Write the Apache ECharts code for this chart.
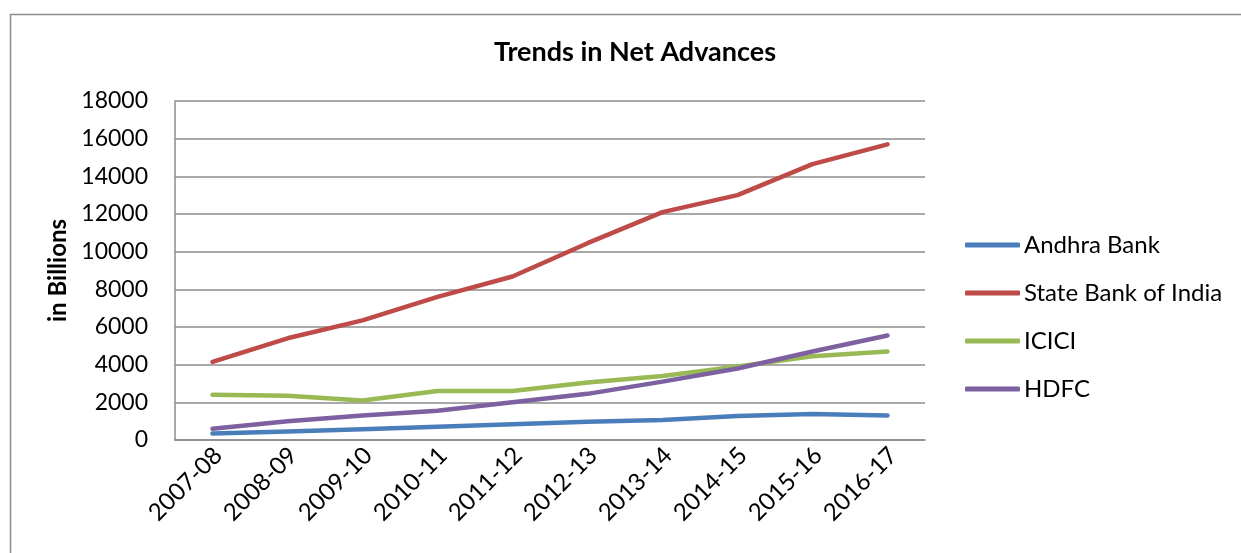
<!DOCTYPE html>
<html>
<head>
<meta charset="utf-8">
<script src="https://cdn.jsdelivr.net/npm/echarts@6/dist/echarts.min.js"></script>
<style>
html,body{margin:0;padding:0;background:#fff;}
#c{width:1241px;height:553px;}
</style>
</head>
<body>
<div id="c"></div>
<script>
const categories = ['2007-08','2008-09','2009-10','2010-11','2011-12','2012-13','2013-14','2014-15','2015-16','2016-17'];
const andhraBank = [350, 450, 570, 700, 830, 970, 1060, 1270, 1380, 1300];
const stateBankOfIndia = [4150, 5400, 6350, 7600, 8680, 10450, 12100, 13000, 14650, 15700];
const icici = [2400, 2350, 2100, 2600, 2600, 3050, 3400, 3900, 4450, 4700];
const hdfc = [600, 1000, 1300, 1550, 2000, 2450, 3100, 3800, 4700, 5550];
const yTicks = [0, 2000, 4000, 6000, 8000, 10000, 12000, 14000, 16000, 18000];

const FONT = 'Lato';
const chart = echarts.init(document.getElementById('c'), null, {renderer: 'canvas'});

function mk(name, data, color) {
  return {
    name: name, type: 'line', data: data, symbol: 'none',
    lineStyle: {width: 4.5, color: color, cap: 'round', join: 'round'},
    itemStyle: {color: color},
    emphasis: {disabled: true}
  };
}

chart.setOption({
  animation: false,
  backgroundColor: '#fff',
  textStyle: {fontFamily: FONT},
  graphic: [{
    type: 'rect', left: 8, top: 12, silent: true,
    shape: {width: 1300, height: 700},
    style: {fill: 'none', stroke: '#8c8c8c', lineWidth: 1.5}
  }],
  title: {
    text: 'Trends in Net Advances',
    left: 630, top: 34, textAlign: 'center',
    textStyle: {fontFamily: FONT, fontWeight: 'bold', fontSize: 27, color: '#000'}
  },
  legend: {
    orient: 'vertical', left: 960, top: 228,
    itemWidth: 55, itemHeight: 5, itemGap: 24,
    icon: 'roundRect',
    data: ['Andhra Bank', 'State Bank of India', 'ICICI', 'HDFC'],
    textStyle: {fontFamily: FONT, fontSize: 24, lineHeight: 24, color: '#000', padding: [0, 0, 0, -1]},
    selectedMode: false
  },
  grid: {left: 175, right: 316, top: 101, bottom: 113},
  xAxis: {
    type: 'category', data: categories, boundaryGap: true,
    axisLine: {lineStyle: {color: '#8c8c8c', width: 1.5}},
    axisTick: {show: false},
    axisLabel: {rotate: 45, fontFamily: FONT, fontSize: 24, color: '#000', margin: 17, interval: 0, padding: [0, -8, 0, 0]}
  },
  yAxis: {
    type: 'value', min: 0, max: 18000, interval: 2000,
    name: 'in Billions', nameLocation: 'middle', nameGap: 105, nameRotate: 90,
    nameTextStyle: {fontFamily: FONT, fontWeight: 'bold', fontSize: 24, color: '#000'},
    axisLine: {show: true, lineStyle: {color: '#8c8c8c', width: 1.5}},
    axisTick: {show: false},
    splitLine: {lineStyle: {color: '#8c8c8c', width: 1.5}},
    axisLabel: {
      fontFamily: FONT, fontSize: 23, color: '#000', margin: 27,
      formatter: function (v) { return yTicks.indexOf(v) >= 0 ? String(v) : ''; }
    }
  },
  series: [
    mk('Andhra Bank', andhraBank, '#4A7EBB'),
    mk('State Bank of India', stateBankOfIndia, '#BE4B48'),
    mk('ICICI', icici, '#98B954'),
    mk('HDFC', hdfc, '#7D60A0')
  ]
});
</script>
</body>
</html>
